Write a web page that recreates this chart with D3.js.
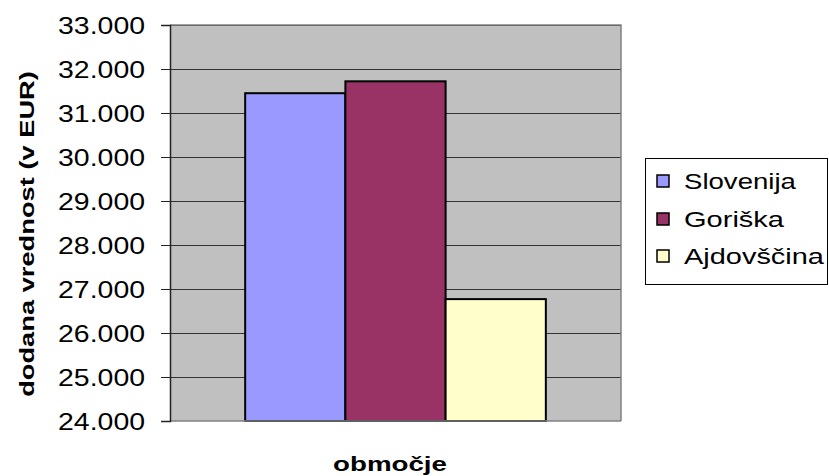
<!DOCTYPE html>
<html><head><meta charset="utf-8">
<script src="https://cdn.jsdelivr.net/npm/d3@7"></script>
<style>body{margin:0;background:#fff}svg{display:block}text{font-family:"Liberation Sans",Arial,sans-serif}</style>
</head><body>
<script>
const categories = ["Slovenija", "Goriška", "Ajdovščina"];
const values = [31450, 31720, 26770];
const colors = ["#9999FF", "#993366", "#FFFFCC"];
const tickValues = [24000, 25000, 26000, 27000, 28000, 29000, 30000, 31000, 32000, 33000];
const tickLabels = ["24.000","25.000","26.000","27.000","28.000","29.000","30.000","31.000","32.000","33.000"];
const legendWidths = [112, 100, 140];

const W = 829, H = 476;
const svg = d3.select("body").append("svg").attr("width", W).attr("height", H);
const L = 170, R = 621, T = 25, B = 421;

// stretch text horizontally to a target width (Excel-like wide glyphs)
function stretch(node, x, y, target, rot) {
  node.setAttribute("x", 0); node.setAttribute("y", 0);
  const w = node.getComputedTextLength();
  const s = target / w;
  node.setAttribute("transform", `translate(${x},${y})` + (rot ? ` rotate(${rot})` : "") + ` scale(${s},1)`);
}

const y = d3.scaleLinear().domain([24000, 33000]).range([B, T]);
const xg = d3.scaleBand().domain(["g"]).range([L, R]);
const gw = xg.bandwidth();
const bw = gw / 1.5 / categories.length;
const xb = d3.scaleBand().domain(categories)
  .range([xg("g") + (gw - categories.length * bw) / 2, xg("g") + (gw + categories.length * bw) / 2]);

svg.append("rect").attr("x", L).attr("y", T).attr("width", R - L).attr("height", B - T).attr("fill", "#C0C0C0");

// gridlines
svg.append("g").selectAll("line").data(tickValues.slice(1)).join("line")
  .attr("x1", L).attr("x2", R).attr("y1", d => y(d)).attr("y2", d => y(d))
  .attr("stroke", "#333").attr("stroke-width", 1).attr("shape-rendering", "crispEdges");

// plot border (top/right gray)
svg.append("path").attr("d", `M${L},${T}H${R}V${B}`).attr("fill", "none").attr("stroke", "#808080").attr("stroke-width", 1.5);

// bars
svg.append("g").selectAll("rect").data(values).join("rect")
  .attr("x", (d, i) => xb(categories[i]))
  .attr("y", d => y(d))
  .attr("width", xb.bandwidth())
  .attr("height", d => y(24000) - y(d))
  .attr("fill", (d, i) => colors[i])
  .attr("stroke", "#000").attr("stroke-width", 2);

// bottom axis line
svg.append("line").attr("x1", L).attr("x2", R).attr("y1", B).attr("y2", B).attr("stroke", "#808080").attr("stroke-width", 1.5);

// y axis
const yAxis = d3.axisLeft(y).tickValues(tickValues).tickSize(9).tickFormat((d, i) => tickLabels[i]);
const ga = svg.append("g").attr("transform", `translate(${L},0)`).call(yAxis);
ga.select(".domain").attr("stroke", "#222").attr("stroke-width", 1.5);
ga.selectAll(".tick line").attr("stroke", "#222");
ga.selectAll(".tick text").attr("font-size", 24).attr("fill", "#000")
  .attr("font-family", "Liberation Sans, Arial, sans-serif").attr("dy", "0.36em")
  .each(function() { stretch(this, -25, 0, 87); });

// y title
const yt = svg.append("text").attr("text-anchor", "middle")
  .attr("font-size", 21).attr("font-weight", "bold").text("dodana vrednost (v EUR)");
stretch(yt.node(), 34, 234, 326, -90);

// x title
const xt = svg.append("text").attr("text-anchor", "middle")
  .attr("font-size", 20).attr("font-weight", "bold").text("območje");
stretch(xt.node(), 390, 471, 114);

// legend
const lg = svg.append("g");
lg.append("rect").attr("x", 645.5).attr("y", 158.5).attr("width", 182).attr("height", 126)
  .attr("fill", "#fff").attr("stroke", "#000").attr("stroke-width", 1);
const rows = [181, 219, 256];
categories.forEach((c, i) => {
  lg.append("rect").attr("x", 657).attr("y", rows[i] - 6).attr("width", 12).attr("height", 12)
    .attr("fill", colors[i]).attr("stroke", "#000").attr("stroke-width", 1.5);
  const t = lg.append("text").attr("dy", "0.36em").attr("font-size", 22).text(c);
  stretch(t.node(), 684, rows[i], legendWidths[i]);
});
</script>
</body></html>
